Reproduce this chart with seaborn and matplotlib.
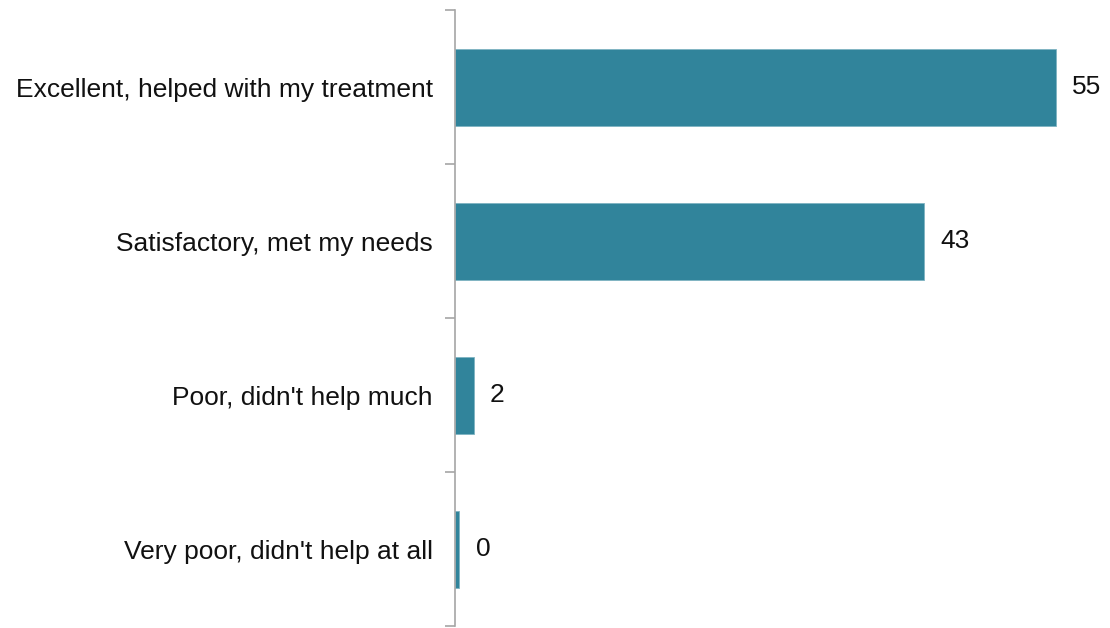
import matplotlib
matplotlib.use("Agg")
import matplotlib.pyplot as plt
import seaborn as sns
import pandas as pd
from matplotlib.ticker import FixedLocator

categories = ["Excellent, helped with my treatment", "Satisfactory, met my needs",
              "Poor, didn't help much", "Very poor, didn't help at all"]
values = [54.9, 42.9, 1.7, 0.4]
labels = ["55", "43", "2", "0"]

sns.set_theme(style="white")
plt.rcParams['font.family'] = ['Liberation Sans', 'DejaVu Sans']

df = pd.DataFrame({"cat": categories, "val": values})

fig = plt.figure(figsize=(11.10, 6.28), dpi=100)
ax = fig.add_axes([455/1110, 2/628, 650/1110, 616/628])
sns.barplot(data=df, y="cat", x="val", orient="h", color="#31849B", width=0.5,
            saturation=1, ax=ax, edgecolor="#7FB3C2", linewidth=0.6)

ax.set_xlim(0, 59.4)
ax.set_ylim(len(categories) - 0.5, -0.5)
ax.set_xlabel("")
ax.set_ylabel("")
ax.set_xticks([])
for s in ["top", "right", "bottom"]:
    ax.spines[s].set_visible(False)
ax.spines["left"].set_color("#A6A6A6")
ax.spines["left"].set_linewidth(1.2)

ax.yaxis.set_minor_locator(FixedLocator([i - 0.5 for i in range(len(categories) + 1)]))
ax.tick_params(axis="y", which="major", length=0, pad=16, labelsize=19, labelcolor="#111111")
ax.tick_params(axis="y", which="minor", length=7, width=1.2, color="#A6A6A6", left=True, direction="out")

for i, (v, lab) in enumerate(zip(values, labels)):
    ax.text(v + 1.5, i, lab, va="center", ha="left", fontsize=19, color="#111111")

fig.savefig("out.png", dpi=100)
